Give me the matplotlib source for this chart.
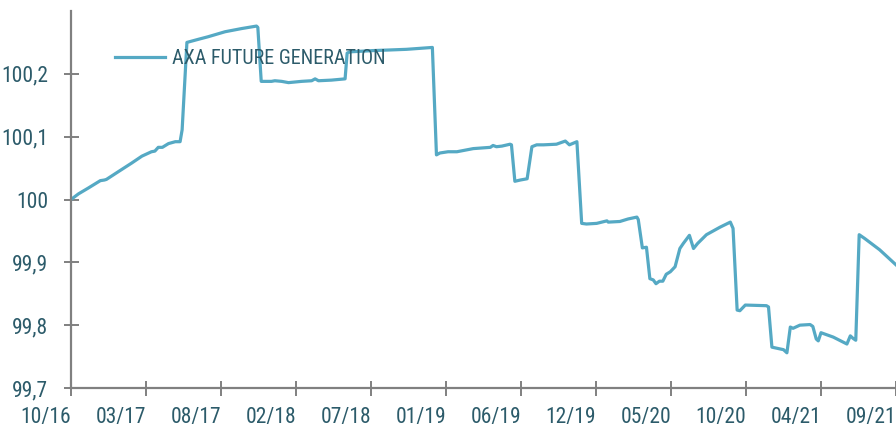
import matplotlib
matplotlib.use("Agg")
import matplotlib.pyplot as plt

# observation index (business days since start) and fund NAV
day = [0, 11, 25, 43, 49, 52, 69, 89, 104, 118, 123, 128, 134, 143, 153, 160,
       163, 170, 187, 201, 226, 250, 272, 274, 279, 294, 299, 309, 319, 338,
       353, 358, 363, 382, 402, 405, 409, 443, 468, 492, 530, 536, 541, 553,
       566, 590, 615, 619, 624, 632, 644, 646, 651, 659, 669, 676, 683, 693,
       712, 725, 731, 742, 749, 756, 771, 786, 788, 805, 817, 830, 832, 838,
       844, 849, 854, 858, 863, 868, 873, 879, 886, 893, 898, 907, 913, 919,
       932, 942, 952, 967, 971, 977, 981, 989, 1020, 1023, 1028, 1045, 1050,
       1055, 1059, 1069, 1084, 1088, 1093, 1096, 1100, 1118, 1138, 1143, 1147,
       1151, 1156, 1164, 1186, 1210]
nav = [100.000, 100.009, 100.018, 100.030, 100.031, 100.032, 100.044, 100.058,
       100.069, 100.076, 100.077, 100.083, 100.083, 100.089, 100.092, 100.092,
       100.111, 100.250, 100.255, 100.259, 100.267, 100.272, 100.276, 100.274,
       100.188, 100.188, 100.189, 100.188, 100.186, 100.188, 100.189, 100.192,
       100.189, 100.190, 100.192, 100.233, 100.235, 100.237, 100.238, 100.239,
       100.242, 100.071, 100.074, 100.076, 100.076, 100.081, 100.083, 100.086,
       100.084, 100.085, 100.088, 100.087, 100.029, 100.031, 100.033, 100.084,
       100.087, 100.087, 100.088, 100.093, 100.087, 100.092, 99.962, 99.961,
       99.962, 99.966, 99.964, 99.965, 99.969, 99.972, 99.968, 99.923, 99.924,
       99.874, 99.872, 99.866, 99.870, 99.870, 99.881, 99.885, 99.893, 99.922,
       99.930, 99.943, 99.922, 99.930, 99.944, 99.950, 99.956, 99.964, 99.954,
       99.824, 99.823, 99.832, 99.831, 99.829, 99.765, 99.761, 99.756, 99.797,
       99.795, 99.800, 99.801, 99.798, 99.778, 99.775, 99.788, 99.781, 99.770,
       99.783, 99.779, 99.776, 99.944, 99.938, 99.920, 99.896]

x_labels = ["10/16", "03/17", "08/17", "02/18", "07/18", "01/19",
            "06/19", "12/19", "05/20", "10/20", "04/21", "09/21"]
y_ticks = [99.7, 99.8, 99.9, 100.0, 100.1, 100.2]
step = 110

text_col = "#2c5b6a"
axis_col = "#808080"
line_col = "#55a9c4"

plt.rcParams["font.family"] = ["Roboto Condensed", "DejaVu Sans"]
plt.rcParams["font.stretch"] = "condensed"

fig = plt.figure(figsize=(8.96, 4.28), dpi=100)
ax = fig.add_axes([71 / 896, 40 / 428, 1 - 71 / 896, 377 / 428])

ax.plot(day, nav, color=line_col, lw=2.3, label="AXA FUTURE GENERATION")

ax.set_xlim(0, step * (len(x_labels) - 1))
ax.set_ylim(99.7, 100.3)
ax.set_xticks([i * step for i in range(len(x_labels))])
ax.set_xticklabels(x_labels, ha="right")
ax.set_yticks(y_ticks)
ax.set_yticklabels([f"{v:g}".replace(".", ",") for v in y_ticks])

for s in ["top", "right"]:
    ax.spines[s].set_visible(False)
for s in ["left", "bottom"]:
    ax.spines[s].set_color(axis_col)
    ax.spines[s].set_linewidth(1.6)

ax.tick_params(axis="both", direction="inout", length=10.8, width=1.4,
               color=axis_col, labelcolor=text_col, labelsize=15.5)
ax.tick_params(axis="y", pad=11)
ax.tick_params(axis="x", pad=8)

leg = ax.legend(loc="upper left", bbox_to_anchor=(0.053, 0.90), frameon=False,
                fontsize=14.5, handlelength=2.5, handletextpad=0.35,
                borderpad=0, borderaxespad=0)
for t in leg.get_texts():
    t.set_color(text_col)

fig.savefig("out.png", dpi=100)
